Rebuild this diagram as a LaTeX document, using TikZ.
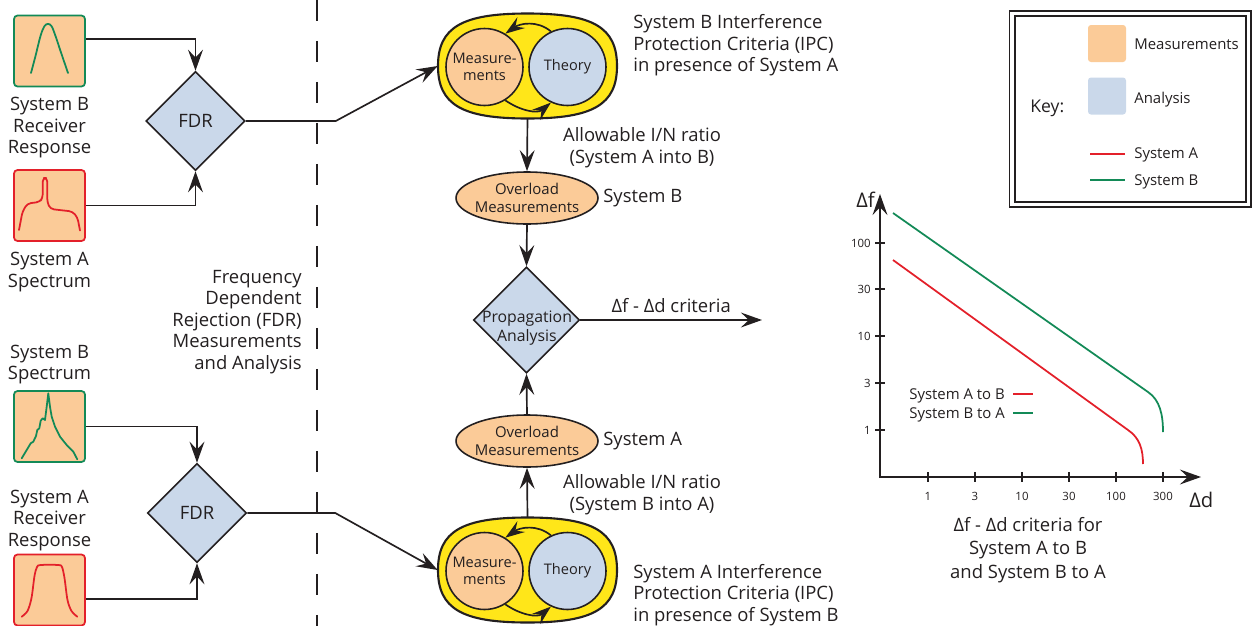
\documentclass[tikz,border=0pt]{standalone}
\usepackage{fontspec}
\setmainfont{Open Sans}
\usetikzlibrary{positioning,arrows.meta,calc,shapes.geometric}
\definecolor{ink}{HTML}{231F20}
\definecolor{measc}{HTML}{FBCB98}
\definecolor{anlc}{HTML}{CAD8EA}
\definecolor{ipcc}{HTML}{FFE619}
\definecolor{sysA}{HTML}{E3202A}
\definecolor{sysB}{HTML}{138A57}
\newcommand{\zw}[1]{\makebox[0pt]{#1}}
\tikzset{
  arr/.style={-{Stealth[length=12pt,width=8.5pt,inset=4.5pt]}, line width=0.95pt, color=ink},
  cyc/.style={-{Stealth[length=11pt,width=7.5pt,inset=4pt]}, line width=0.95pt, color=ink},
  specbox/.style={draw, fill=measc, rounded corners=2pt, line width=1pt,
                  minimum width=1.42cm, minimum height=1.42cm, inner sep=0pt},
  fdr/.style={diamond, draw=ink, fill=anlc, line width=0.9pt, minimum width=1.98cm,
              minimum height=1.98cm, inner sep=0pt, font=\fontsize{10.5}{12}\selectfont, text=ink},
  blobhold/.style={minimum width=3.58cm, minimum height=2.1cm, inner sep=0pt},
  blob/.style={draw=ink, fill=ipcc, line width=1.2pt},
  disc/.style={circle, draw=ink, line width=0.9pt, minimum size=1.54cm, inner sep=0pt,
               align=center, font=\fontsize{8.3}{9.8}\selectfont, text=ink},
  ovl/.style={ellipse, draw=ink, fill=measc, line width=0.9pt, minimum width=2.84cm,
              minimum height=1.04cm, inner sep=0pt, align=center,
              font=\fontsize{8.5}{10.2}\selectfont, text=ink},
  txt/.style={font=\fontsize{10.5}{12.3}\selectfont, text=ink, inner sep=0pt},
  small/.style={font=\fontsize{8.5}{10}\selectfont, text=ink, inner sep=0pt},
  ticklab/.style={font=\fontsize{6.5}{8}\selectfont, text=ink, inner sep=0pt},
  spec/.style={line width=1pt, line join=round, line cap=round},
  swatch/.style={rounded corners=1.7pt, minimum width=0.76cm, minimum height=0.74cm, inner sep=0pt},
}
% rounded, slightly square outline of the IPC blocks
\newcommand{\blobpath}{(89.5,0) .. controls (89.5,-39) and (65,-52.5) .. (0,-52.5)
  .. controls (-65,-52.5) and (-89.5,-39) .. (-89.5,0)
  .. controls (-89.5,39) and (-65,52.5) .. (0,52.5)
  .. controls (65,52.5) and (89.5,39) .. (89.5,0) -- cycle}

\begin{document}
\begin{tikzpicture}[x=0.02cm, y=-0.02cm]
  \useasboundingbox (0,0) rectangle (1252,626);

  % inputs on the left
  \node[specbox, draw=sysB] (rxB) at (49.5,51) {};
  \node[txt, align=center, below=1.9mm of rxB] (rxBt) {System B\\Receiver\\Response};
  \node[specbox, draw=sysA] (txA) at (49.5,205.5) {};
  \node[txt, align=center, below=2mm of txA] (txAt) {System A\\Spectrum};
  \node[specbox, draw=sysB] (txB) at (49.5,426.5) {};
  \node[txt, align=center, above=1.1mm of txB] (txBt) {System B\\Spectrum};
  \node[specbox, draw=sysA] (rxA) at (49.5,590) {};
  \node[txt, align=center, above=0.5mm of rxA] (rxAt) {System A\\Receiver\\Response};

  \begin{scope}[shift={(rxB)}]
    \draw[spec, sysB] plot[smooth, tension=0.6] coordinates
      {(-18.5,22) (-14,5) (-9,-15) (-5,-25) (-1.5,-27) (2,-25) (6,-15) (11,0) (18.5,22)};
  \end{scope}
  \begin{scope}[shift={(txA)}]
    \draw[spec, sysA, rounded corners=2pt] (-30.5,24.5) -- (-27,6) -- (-22,-2) -- (-10,-3.5)
      -- (-6.8,-7.5) -- (-6.8,-27.5) -- (-2.2,-27.5) -- (-2.2,-3) -- (1,3.5) -- (23,6)
      -- (28,12) -- (30.5,25);
  \end{scope}
  \begin{scope}[shift={(txB)}]
    \draw[spec, sysB] (-27.8,31.8) -- (-22.8,23.5) -- (-18.8,16.8) -- (-16.2,15.2) -- (-13.5,9.5)
      -- (-12.2,3.5) -- (-10.2,1.8) -- (-8.8,-5.8) -- (-6.8,-8.2) -- (-4.5,-6.5) -- (-2.8,-19.8)
      -- (-1.2,-33.2) -- (0.5,-19.8) -- (2.2,-9.8) -- (5.5,0.2) -- (10.5,10.2) -- (17.2,18.5)
      -- (23.8,25.2) -- (27.8,32.8);
  \end{scope}
  \begin{scope}[shift={(rxA)}]
    \draw[spec, sysA] plot[smooth, tension=0.5] coordinates
      {(-27.8,26.7) (-22,21) (-18,8) (-15,-14) (-12.5,-23) (-9,-25) (9,-25) (12.5,-23) (15,-12) (18,10) (22,21) (27.8,26.7)};
  \end{scope}

  \node[fdr] (fdrT) at (195.5,121) {FDR};
  \node[fdr] (fdrL) at (197,513) {FDR};
  \draw[arr] ([yshift=0.24cm]rxB.east) -| (fdrT.north);
  \draw[arr] (txA.east) -| (fdrT.south);
  \draw[arr] (txB.east) -| (fdrL.north);
  \draw[arr] ([yshift=-0.18cm]rxA.east) -| (fdrL.south);

  \coordinate (divT) at (317,0);
  \coordinate (divB) at (317,626);
  \draw[ink, line width=0.75pt, dash pattern=on 0.42cm off 0.4cm] (divT) -- (divB);
  \node[txt, align=right, anchor=east] (fdrlab) at (302,322)
       {Frequency\\Dependent\\Rejection (FDR)\\Measurements\\and Analysis};

  % interference protection criteria
  \node[blobhold] (ipcB) at (527.5,66) {};
  \draw[blob, shift={(ipcB)}] \blobpath;
  \node[disc, fill=measc] (meB) at (484.5,67) {Measure-\\ments};
  \node[disc, fill=anlc] (thB) at (567.5,67) {Theory};
  \draw[cyc] (thB.115) to[out=140,in=35] (meB.58);
  \draw[cyc] (meB.-58) to[out=-35,in=-140] (thB.-115);
  \node[txt, align=left, anchor=west] (ipcBt) at (633,45.5)
       {System B Interference\\Protection Criteria (IPC)\\in presence of System A};

  \node[blobhold] (ipcA) at (527.5,570) {};
  \draw[blob, shift={(ipcA)}] \blobpath;
  \node[disc, fill=measc] (meA) at (484.5,571) {Measure-\\ments};
  \node[disc, fill=anlc] (thA) at (567.5,571) {Theory};
  \draw[cyc] (thA.115) to[out=140,in=35] (meA.58);
  \draw[cyc] (meA.-58) to[out=-35,in=-140] (thA.-115);
  \node[txt, align=left, anchor=west] (ipcAt) at (633,595)
       {System A Interference\\Protection Criteria (IPC)\\in presence of System B};

  \draw[arr] (fdrT.east) -- ++(90,0) -- (ipcB.west);
  \draw[arr] (fdrL.east) -- ++(88,0) -- (ipcA.west);

  \node[ovl] (ovB) at (527,198) {\zw{Overload}\\\zw{Measurements}};
  \node[txt, anchor=west] (ovBt) at (603,198) {System B};
  \node[ovl] (ovA) at (527,441) {\zw{Overload}\\\zw{Measurements}};
  \node[txt, anchor=west] (ovAt) at (603,441) {System A};
  \node[fdr, minimum width=2.12cm, minimum height=2.12cm] (prop) at (526.5,320) {};
  \node[txt, align=center, font=\fontsize{9}{10.8}\selectfont] (propt) at (527,328)
       {\zw{Propagation}\\\zw{Analysis}};

  \draw[arr] (ipcB.south) -- (ovB.north);
  \node[txt, align=center] (inB) at (642,148) {Allowable I/N ratio\\(System A into B)};
  \draw[arr] (ovB.south) -- (prop.north);
  \draw[arr] (ipcA.north) -- (ovA.south);
  \node[txt, align=center] (inA) at (642,495) {Allowable I/N ratio\\(System B into A)};
  \draw[arr] (ovA.north) -- (prop.south);
  \coordinate (crit) at (762,320);
  \draw[arr] (prop.east) -- node[txt, above=1.2mm] (critt) {Δf - Δd criteria} (crit);

  % key
  \node[draw=ink, line width=0.6pt, minimum width=4.84cm, minimum height=3.92cm, inner sep=0pt] (keyo) at (1130,109) {};
  \node[draw=ink, line width=1pt, minimum width=4.62cm, minimum height=3.72cm, inner sep=0pt] (keyi) at (1130.5,109) {};
  \node[swatch, fill=measc] (swM) at (1107,43.5) {};
  \node[swatch, fill=anlc] (swA) at (1107,96) {};
  \node[small, anchor=west] (kM) at (1134,44) {Measurements};
  \node[small, anchor=west] (kA) at (1134,100) {Analysis};
  \node[txt, font=\fontsize{10}{12}\selectfont, anchor=west] (kk) at (1030,108) {Key:};
  \draw[sysA, line width=1pt] (1090,154) -- (1125,154);
  \draw[sysB, line width=1pt] (1090,180) -- (1125,180);
  \node[small, anchor=west] (kSA) at (1134,155) {System A};
  \node[small, anchor=west] (kSB) at (1134,182) {System B};

  % criteria chart
  \coordinate (orig) at (880,477);
  \coordinate (ytop) at (880,194);
  \coordinate (xend) at (1201,477);
  \draw[arr] ([yshift=-0.02cm]orig) -- (ytop);
  \draw[arr] ([xshift=-0.02cm]orig) -- (xend);
  \node[txt, font=\fontsize{11.5}{13}\selectfont, anchor=east] (dfl) at (875,200) {Δf};
  \node[txt, font=\fontsize{11.5}{13}\selectfont, anchor=west] (ddl) at (1189,500) {Δd};
  \foreach \yy/\lab in {243/100, 289/30, 336/10, 383/3, 430/1} {
    \draw[ink, line width=0.9pt] (875,\yy) -- (885,\yy);
    \node[ticklab, anchor=east] (yl\lab) at (871,\yy) {\lab};
  }
  \foreach \xx/\lab in {928/1, 975/3, 1022/10, 1069/30, 1116/100, 1163/300} {
    \draw[ink, line width=0.9pt] (\xx,472) -- (\xx,482);
    \node[ticklab] (xl\lab) at (\xx,496) {\lab};
  }
  \draw[sysB, line width=1pt] (893,213) -- (1148,392) .. controls (1160,400) and (1163,415) .. (1163,432);
  \draw[sysA, line width=1pt] (893,260) -- (1128,430) .. controls (1140,438) and (1143,450) .. (1143,464);
  \node[small, anchor=west] (lgAB) at (909,396) {System A to B};
  \node[small, anchor=west] (lgBA) at (909,415) {System B to A};
  \draw[sysA, line width=1pt] (1013,394) -- (1033,394);
  \draw[sysB, line width=1pt] (1013,413) -- (1033,413);
  \node[txt, align=center, font=\fontsize{10.5}{13.3}\selectfont] (cap) at (1028,550)
       {Δf - Δd criteria for\\System A to B\\and System B to A};
\end{tikzpicture}
\end{document}
